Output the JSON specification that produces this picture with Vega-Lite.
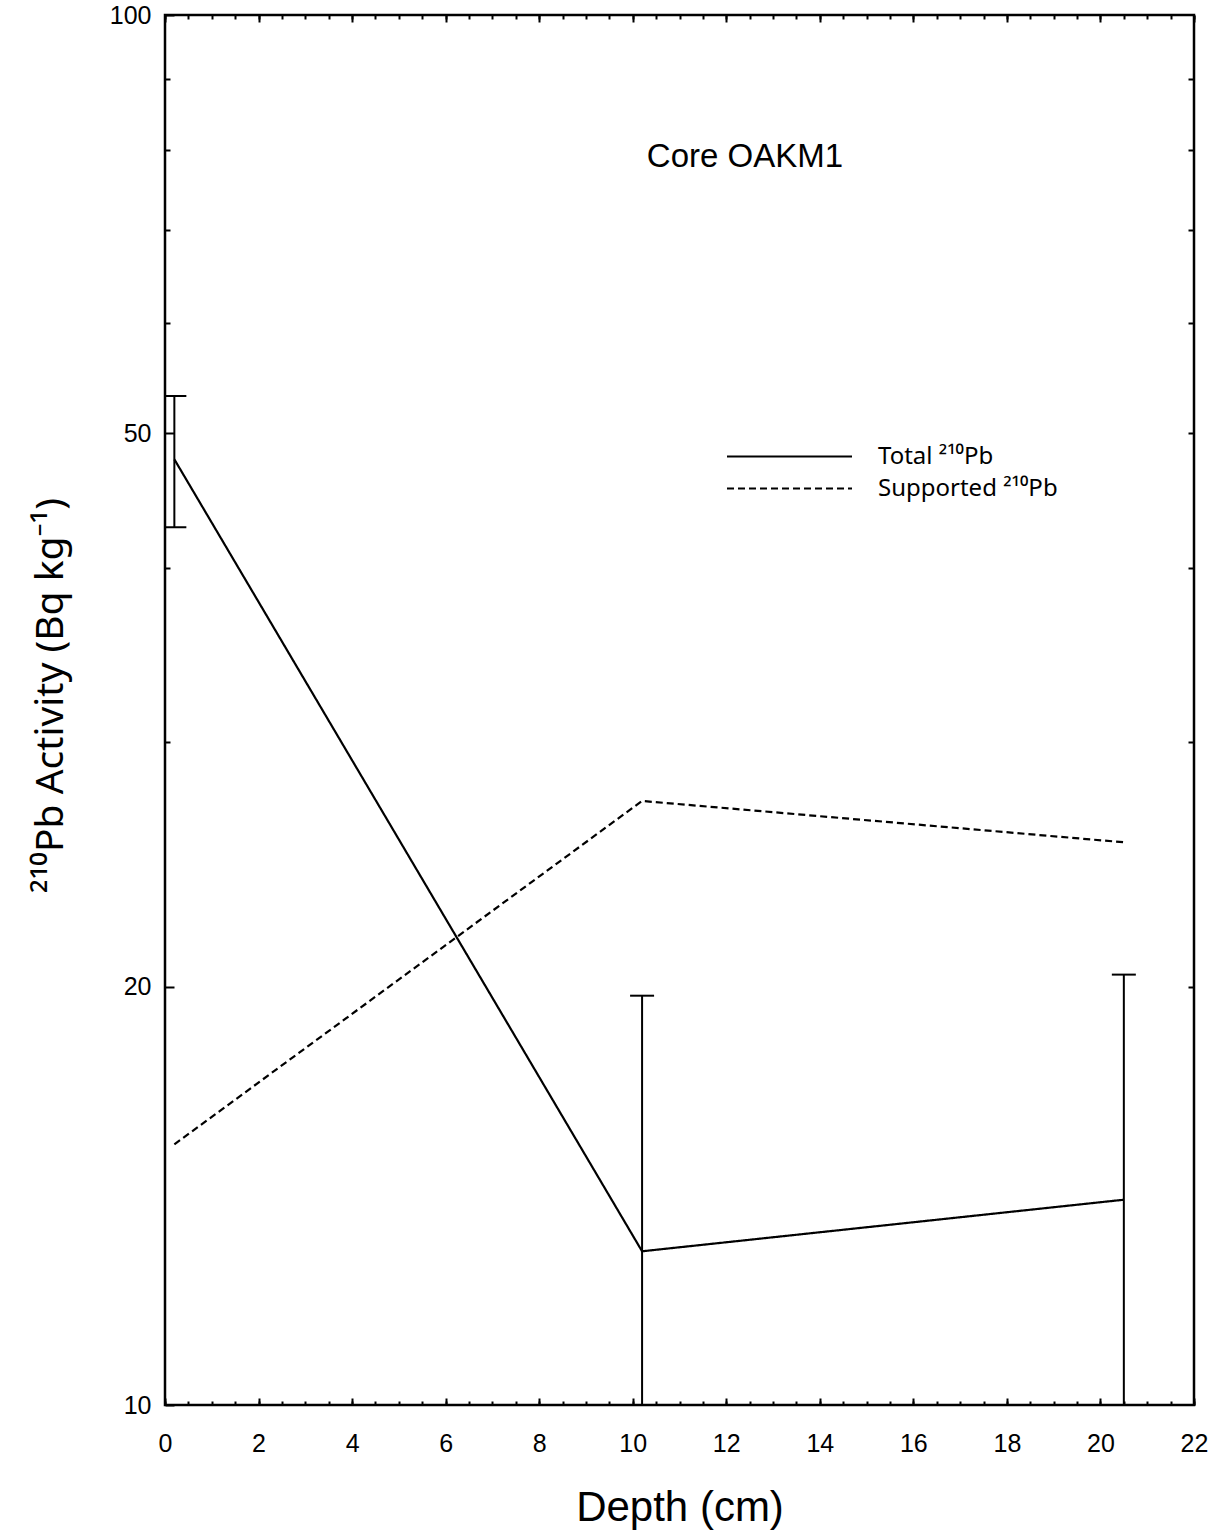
{
  "$schema": "https://vega.github.io/schema/vega-lite/v6.json",
  "width": 1029,
  "height": 1390,
  "autosize": {"type": "none"},
  "padding": {"left": 165, "top": 15, "right": 27, "bottom": 130},
  "background": "white",
  "config": {
    "font": "Liberation Sans",
    "view": {"stroke": "black", "strokeWidth": 2.5},
    "axis": {
      "domain": false,
      "grid": false,
      "tickColor": "black",
      "tickWidth": 2,
      "labelColor": "black",
      "titleColor": "black",
      "labelFont": "Liberation Sans",
      "titleFont": "Liberation Sans",
      "labelFontSize": 25,
      "titleFontWeight": "normal"
    }
  },
  "datasets": {
    "series": [
      {"series": "Total ²¹⁰Pb", "depth": 0.2, "activity": 47.9},
      {"series": "Total ²¹⁰Pb", "depth": 10.2, "activity": 12.9},
      {"series": "Total ²¹⁰Pb", "depth": 20.5, "activity": 14.05},
      {"series": "Supported ²¹⁰Pb", "depth": 0.2, "activity": 15.4},
      {"series": "Supported ²¹⁰Pb", "depth": 10.2, "activity": 27.2},
      {"series": "Supported ²¹⁰Pb", "depth": 20.5, "activity": 25.4}
    ],
    "errors": [
      {"depth": 0.2, "activity": 47.9, "lo": 42.8, "hi": 53.2},
      {"depth": 10.2, "activity": 12.9, "lo": 6.1, "hi": 19.7},
      {"depth": 20.5, "activity": 14.05, "lo": 7.7, "hi": 20.4}
    ],
    "note": [{"depth": 12.4, "activity": 79, "label": "Core OAKM1"}]
  },
  "layer": [
    {
      "data": {"name": "series"},
      "mark": {"type": "line", "strokeWidth": 2.2, "color": "black", "clip": true},
      "encoding": {
        "x": {
          "field": "depth", "type": "quantitative",
          "scale": {"domain": [0, 22], "nice": false, "zero": false},
          "axis": {
            "orient": "bottom",
            "values": [0, 2, 4, 6, 8, 10, 12, 14, 16, 18, 20, 22],
            "format": "d",
            "tickSize": -7,
            "labelPadding": 33,
            "labelFlush": false,
            "title": "Depth (cm)",
            "titleFontSize": 42,
            "titleY": 115,
            "titleBaseline": "alphabetic"
          }
        },
        "y": {
          "field": "activity", "type": "quantitative",
          "scale": {"type": "log", "domain": [10, 100], "nice": false},
          "axis": {
            "orient": "left",
            "values": [10, 20, 50, 100],
            "format": "d",
            "tickSize": -9,
            "labelPadding": 23,
            "labelFlush": false,
            "labelBaseline": "middle",
            "title": "²¹⁰Pb Activity (Bq kg⁻¹)",
            "titleFont": "Noto Sans",
            "titleFontSize": 39,
            "titleAngle": -90,
            "titleX": -103,
            "titleY": 680,
            "titleBaseline": "alphabetic",
            "titleAlign": "center"
          }
        },
        "strokeDash": {
          "field": "series", "type": "nominal",
          "scale": {"domain": ["Total ²¹⁰Pb", "Supported ²¹⁰Pb"], "range": [[1, 0], [7, 4]]},
          "legend": {
            "orient": "none",
            "legendX": 611,
            "legendY": 428,
            "title": null,
            "padding": 0,
            "symbolType": "M-5,0H5",
            "symbolSize": 625,
            "symbolStrokeWidth": 2,
            "symbolStrokeColor": "black",
            "labelFont": "Noto Sans",
            "labelFontSize": 24,
            "labelColor": "black",
            "labelLimit": 0,
            "labelOffset": 75,
            "rowPadding": 6
          }
        }
      }
    },
    {
      "data": {"name": "errors"},
      "mark": {"type": "rule", "strokeWidth": 2, "color": "black", "clip": true},
      "encoding": {
        "x": {
          "field": "depth", "type": "quantitative",
          "axis": {
            "orient": "bottom",
            "values": [0, 0.5, 1, 1.5, 2, 2.5, 3, 3.5, 4, 4.5, 5, 5.5, 6, 6.5, 7, 7.5, 8, 8.5, 9, 9.5, 10, 10.5, 11, 11.5, 12, 12.5, 13, 13.5, 14, 14.5, 15, 15.5, 16, 16.5, 17, 17.5, 18, 18.5, 19, 19.5, 20, 20.5, 21, 21.5, 22],
            "labels": false,
            "tickSize": -4,
            "title": null
          }
        },
        "y": {
          "field": "lo", "type": "quantitative",
          "axis": {
            "orient": "left",
            "values": [30, 40, 60, 70, 80, 90],
            "labels": false,
            "tickSize": -5,
            "title": null
          }
        },
        "y2": {"field": "hi"}
      }
    },
    {
      "data": {"name": "errors"},
      "mark": {"type": "tick", "orient": "horizontal", "size": 24, "thickness": 2, "color": "black", "opacity": 1, "clip": true},
      "encoding": {
        "x": {
          "field": "depth", "type": "quantitative",
          "axis": {
            "orient": "top",
            "values": [0, 2, 4, 6, 8, 10, 12, 14, 16, 18, 20, 22],
            "labels": false,
            "tickSize": -7,
            "title": null
          }
        },
        "y": {
          "field": "hi", "type": "quantitative",
          "axis": {
            "orient": "right",
            "values": [20, 30, 40, 50, 60, 70, 80, 90],
            "labels": false,
            "tickSize": -6,
            "title": null
          }
        }
      }
    },
    {
      "data": {"name": "errors"},
      "transform": [{"filter": "datum.lo >= 10"}],
      "mark": {"type": "tick", "orient": "horizontal", "size": 24, "thickness": 2, "color": "black", "opacity": 1, "clip": true},
      "encoding": {
        "x": {
          "field": "depth", "type": "quantitative",
          "axis": {
            "orient": "top",
            "values": [0, 0.5, 1, 1.5, 2, 2.5, 3, 3.5, 4, 4.5, 5, 5.5, 6, 6.5, 7, 7.5, 8, 8.5, 9, 9.5, 10, 10.5, 11, 11.5, 12, 12.5, 13, 13.5, 14, 14.5, 15, 15.5, 16, 16.5, 17, 17.5, 18, 18.5, 19, 19.5, 20, 20.5, 21, 21.5, 22],
            "labels": false,
            "tickSize": -4,
            "title": null
          }
        },
        "y": {"field": "lo", "type": "quantitative", "axis": null}
      }
    },
    {
      "data": {"name": "note"},
      "mark": {"type": "text", "fontSize": 33, "font": "Liberation Sans", "color": "black", "align": "center", "baseline": "middle"},
      "encoding": {
        "x": {"field": "depth", "type": "quantitative", "axis": null},
        "y": {"field": "activity", "type": "quantitative", "axis": null},
        "text": {"field": "label"}
      }
    }
  ],
  "resolve": {"axis": {"x": "independent", "y": "independent"}}
}
